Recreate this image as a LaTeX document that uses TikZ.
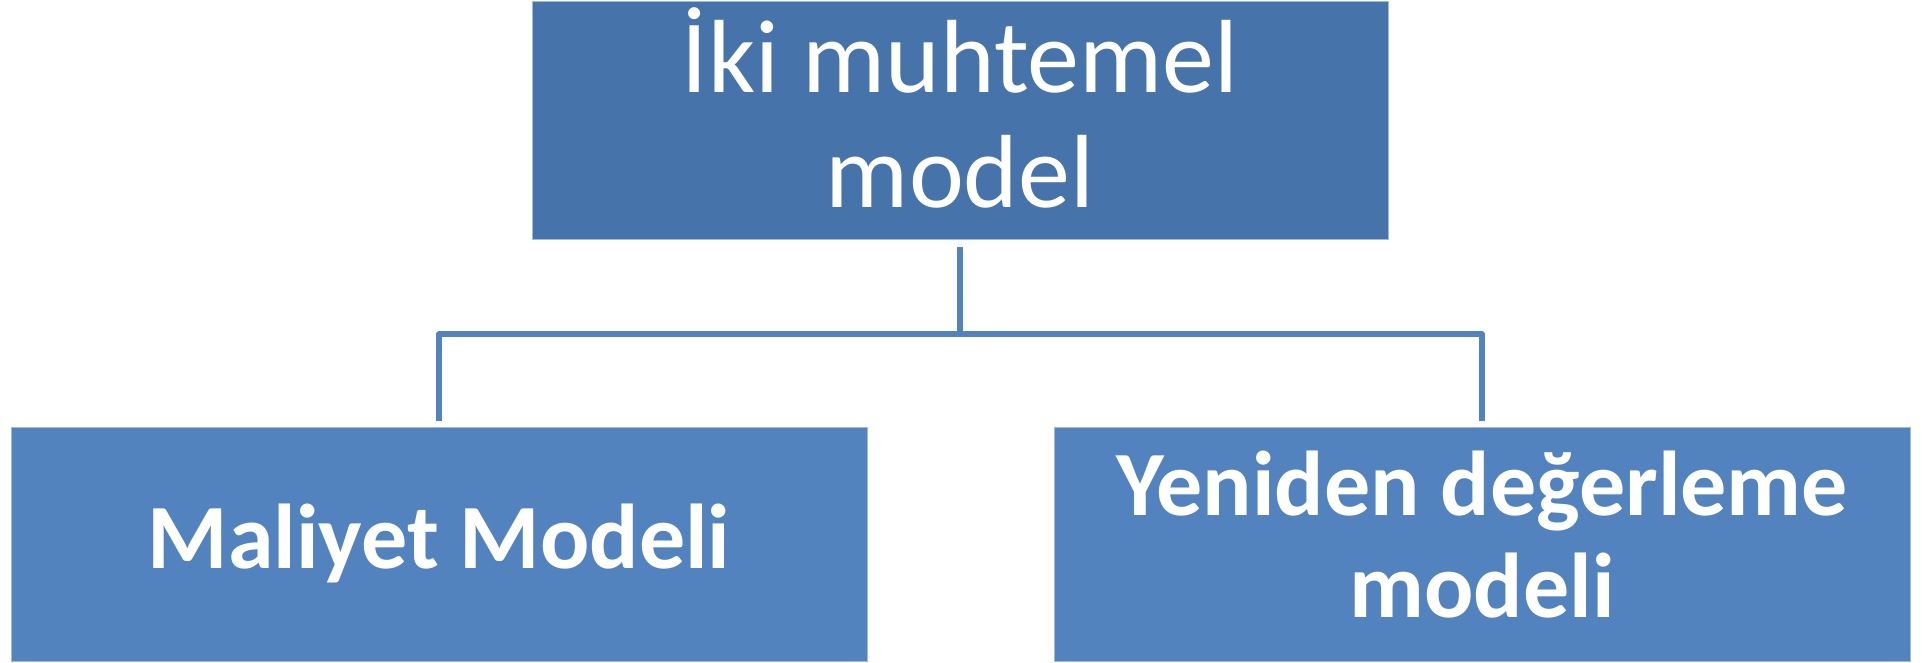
\documentclass[tikz,border=0pt]{standalone}
\usepackage{fontspec}
\setmainfont{Carlito}
\definecolor{topblue}{RGB}{70,116,170}
\definecolor{subblue}{RGB}{82,131,190}
\definecolor{edgeblue}{RGB}{160,186,220}
\definecolor{linkblue}{RGB}{82,131,190}
\tikzset{
  boxshape/.style={draw=edgeblue, line width=1pt, rectangle, inner sep=0pt},
  topbox/.style={boxshape, fill=topblue},
  subbox/.style={boxshape, fill=subblue},
  toptext/.style={text=white, align=center, inner sep=0pt, font=\fontsize{104}{115}\selectfont},
  subtext/.style={text=white, align=center, inner sep=0pt, font=\bfseries\fontsize{92}{102}\selectfont},
  link/.style={draw=linkblue, line width=5.5pt, line join=round}
}
\begin{document}
\begin{tikzpicture}[x=1pt,y=1pt]
\useasboundingbox (0,0) rectangle (1927,663);
\node[topbox, minimum width=856pt, minimum height=238pt] (top) at (960,542) {};
\node[subbox, minimum width=856pt, minimum height=234pt] (left) at (439,118) {};
\node[subbox, minimum width=856pt, minimum height=234pt] (right) at (1482,118) {};
\node[toptext, anchor=base] (toptxt) at (960,455) {İki muhtemel\\model};
\node[subtext, anchor=base] (lefttxt) at (439,94) {Maliyet Modeli};
\node[subtext, anchor=base] (righttxt) at (1482,45) {Yeniden değerleme\\modeli};
\coordinate (hub) at (960,329);
\coordinate (start) at ([yshift=-7pt]top.south);
\draw[link] (start) -- (hub) -| ([yshift=6pt]left.north);
\draw[link] (hub) -| ([yshift=6pt]right.north);
\end{tikzpicture}
\end{document}
